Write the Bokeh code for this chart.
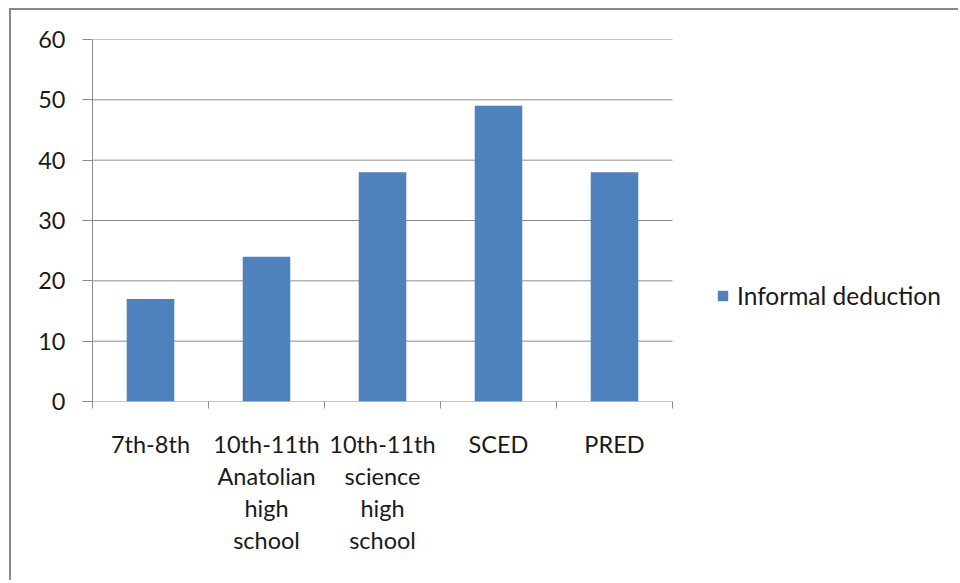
from bokeh.plotting import figure
from bokeh.models import ColumnDataSource, Range1d, FixedTicker, Legend, LegendItem
from bokeh.embed import file_html
from bokeh.resources import INLINE

categories = ["7th-8th", "10th-11th\nAnatolian\nhigh\nschool", "10th-11th\nscience\nhigh\nschool", "SCED", "PRED"]
values = [17, 24, 38, 49, 38]
series_name = "Informal deduction"
y_ticks = [0, 10, 20, 30, 40, 50, 60]

FONT = "Lato"
TXT = "#1a1a1a"
GRID = "#8c8c8c"
BAR = "#4f81bd"

n = len(categories)
xs = list(range(1, n + 1))
src = ColumnDataSource(dict(x=xs, top=values))

# layout: plot area of the categories is 580 px wide; the frame runs on to the right edge
W, H = 949, 572
LEFT, TOP, BOTTOM = 81, 29, 181
cat_px = 580.0 / n
x_end = 0.5 + (W - LEFT) / cat_px

p = figure(width=W, height=H, output_backend="svg", toolbar_location=None,
           x_range=Range1d(0.5, x_end), y_range=Range1d(0, 60),
           min_border_left=LEFT, min_border_right=0, min_border_top=TOP, min_border_bottom=BOTTOM)
p.styles = {"margin-left": "9px", "margin-top": "8px",
            "border-left": "2px solid #8a8a8a", "border-top": "2px solid #8a8a8a"}
p.outline_line_color = None
p.background_fill_color = "white"
p.border_fill_color = "white"

# horizontal gridlines and the category axis line, limited to the category span
p.segment(x0=[0.5] * len(y_ticks), x1=[n + 0.5] * len(y_ticks), y0=y_ticks, y1=y_ticks,
          line_color=GRID, line_width=1)

r = p.vbar(x="x", top="top", width=0.41, bottom=0, source=src, fill_color=BAR, line_color=None)

# x axis
p.xaxis.ticker = FixedTicker(ticks=xs, minor_ticks=[i + 0.5 for i in range(n + 1)])
p.xaxis.major_label_overrides = {i: c for i, c in zip(xs, categories)}
p.xaxis.major_tick_out = 0
p.xaxis.major_tick_in = 0
p.xaxis.minor_tick_out = 7
p.xaxis.minor_tick_in = 0
p.xaxis.minor_tick_line_color = GRID
p.xaxis.axis_line_color = None
p.xaxis.major_label_standoff = 21
p.xaxis.major_label_text_font = FONT
p.xaxis.major_label_text_font_size = "23.5px"
p.xaxis.major_label_text_color = TXT
p.xaxis.major_label_text_line_height = 1.15
p.xaxis.major_label_text_align = "center"

# y axis
p.yaxis.ticker = FixedTicker(ticks=y_ticks)
p.yaxis.minor_tick_line_color = None
p.yaxis.major_tick_out = 10
p.yaxis.major_tick_in = 0
p.yaxis.major_tick_line_color = GRID
p.yaxis.axis_line_color = GRID
p.yaxis.major_label_standoff = 17
p.yaxis.major_label_text_font = FONT
p.yaxis.major_label_text_font_size = "23.5px"
p.yaxis.major_label_text_color = TXT

p.xgrid.grid_line_color = None
p.ygrid.grid_line_color = None

legend = Legend(items=[LegendItem(label=series_name, renderers=[r])],
                location=(624, 91), glyph_width=13, glyph_height=13, label_standoff=8,
                padding=0, margin=0, border_line_color=None, background_fill_alpha=0,
                label_text_font=FONT, label_text_font_size="24.5px", label_text_color=TXT)
p.add_layout(legend, "center")

open("out.html", "w").write(file_html(p, INLINE))
